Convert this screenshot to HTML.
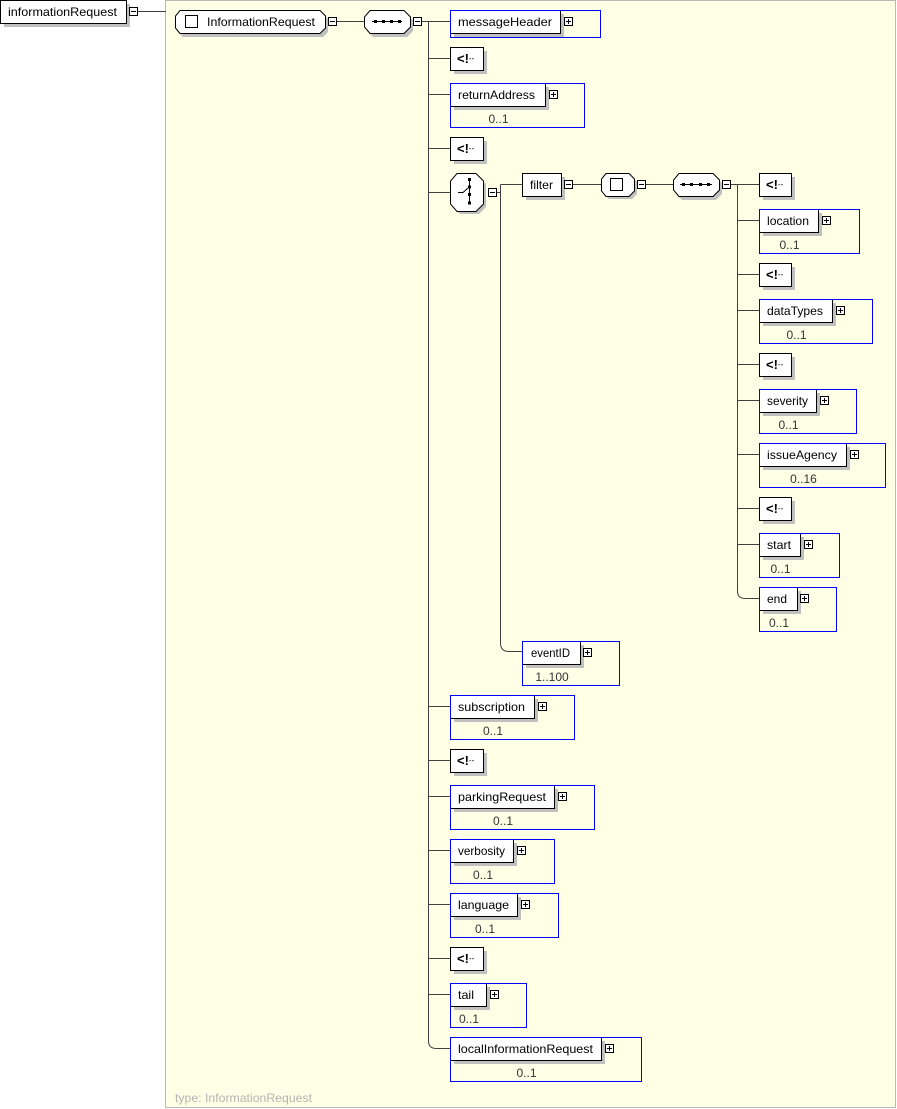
<!DOCTYPE html>
<html>
<head>
<meta charset="utf-8">
<style>
html,body{margin:0;padding:0;background:#fff;}
svg{display:block;}
text{font-family:"Liberation Sans",Arial,sans-serif;}
.t{font-size:12px;fill:#000;}
.o{font-size:12px;fill:#333;}
.ln{stroke:#404040;stroke-width:1;fill:none;}
.bx{fill:#fff;stroke:#000;stroke-width:1;}
.sh{fill:#c0c0c0;}
.bl{fill:none;stroke:#0000ff;stroke-width:1;}
.pm{fill:#fff;stroke:#000;stroke-width:1;}
.pl{stroke:#000;stroke-width:1;}
</style>
</head>
<body>
<svg width="897" height="1109" viewBox="0 0 897 1109" xmlns="http://www.w3.org/2000/svg">
<!-- panel -->
<rect x="165.5" y="0.5" width="730" height="1107" fill="#ffffe6" stroke="#b8b8b8"/>
<text x="175" y="1102" font-size="12" fill="#b4b4b4" textLength="137" lengthAdjust="spacingAndGlyphs">type: InformationRequest</text>

<!-- root element -->
<rect class="sh" x="4" y="4" width="126" height="23"/>
<rect class="bx" x="0.5" y="0.5" width="126" height="23"/>
<text class="t" x="8" y="16" textLength="109" lengthAdjust="spacingAndGlyphs">informationRequest</text>
<rect class="pm" x="129.5" y="7.5" width="8" height="8"/>
<line class="pl" x1="131" y1="11.5" x2="136" y2="11.5"/>
<line class="ln" x1="138" y1="11.5" x2="166" y2="11.5"/>

<!-- complex type InformationRequest -->
<polygon class="sh" points="184,14 324,14 329,19 329,32 324,37 184,37 179,32 179,19" transform="translate(-1,0)"/>
<polygon class="bx" points="180,10.5 320,10.5 325.5,16 325.5,28 320,33.5 180,33.5 175.5,28 175.5,16"/>
<rect x="185.5" y="15.5" width="12" height="12" fill="#fff" stroke="#000"/>
<text class="t" x="207" y="26" textLength="108" lengthAdjust="spacingAndGlyphs">InformationRequest</text>
<rect class="pm" x="328.5" y="17.5" width="8" height="8"/>
<line class="pl" x1="330" y1="21.5" x2="335" y2="21.5"/>
<line class="ln" x1="337" y1="21.5" x2="364" y2="21.5"/>

<!-- main sequence -->
<polygon class="sh" points="373,14 407,14 413,20 413,31 407,37 373,37 367,31 367,20"/>
<polygon class="bx" points="370,10.5 404,10.5 410.5,17 410.5,27 404,33.5 370,33.5 364.5,27 364.5,17"/>
<line x1="372" y1="21.5" x2="402" y2="21.5" stroke="#000"/>
<rect x="374" y="20" width="3" height="3" fill="#000"/>
<rect x="382" y="20" width="3" height="3" fill="#000"/>
<rect x="390" y="20" width="3" height="3" fill="#000"/>
<rect x="398" y="20" width="3" height="3" fill="#000"/>
<rect class="pm" x="413.5" y="17.5" width="8" height="8"/>
<line class="pl" x1="415" y1="21.5" x2="420" y2="21.5"/>

<!-- main trunk -->
<path class="ln" d="M422 21.5 H450 M428.5 21.5 V1041 Q428.5 1048.5 436.5 1048.5 H450"/>
<path class="ln" d="M428.5 58.5 H450 M428.5 94.5 H450 M428.5 148.5 H450 M428.5 192.5 H450 M428.5 706.5 H450 M428.5 760.5 H450 M428.5 796.5 H450 M428.5 850.5 H450 M428.5 904.5 H450 M428.5 958.5 H450 M428.5 994.5 H450"/>

<!-- messageHeader -->
<rect class="sh" x="454" y="14" width="110" height="23"/>
<rect class="bx" x="450.5" y="10.5" width="110" height="23"/>
<rect class="bl" x="450.5" y="10.5" width="150" height="27"/>
<text class="t" x="458" y="26" textLength="94" lengthAdjust="spacingAndGlyphs">messageHeader</text>
<rect class="pm" x="564.5" y="17.5" width="8" height="8"/>
<path class="pl" d="M566 21.5 H571 M568.5 19 V24"/>

<!-- comment 1 -->
<rect class="sh" x="454" y="51" width="33" height="23"/>
<rect class="bx" x="450.5" y="47.5" width="33" height="23"/>
<text x="457" y="63" font-size="13" font-weight="bold">&lt;!<tspan font-size="8" font-weight="normal" dy="-2">--</tspan></text>

<!-- returnAddress -->
<rect class="sh" x="454" y="87" width="95" height="23"/>
<rect class="bx" x="450.5" y="83.5" width="95" height="23"/>
<rect class="bl" x="450.5" y="83.5" width="134" height="44"/>
<text class="t" x="458" y="99" textLength="77" lengthAdjust="spacingAndGlyphs">returnAddress</text>
<rect class="pm" x="549.5" y="90.5" width="8" height="8"/>
<path class="pl" d="M551 94.5 H556 M553.5 92 V97"/>
<text class="o" x="498.5" y="123" text-anchor="middle">0..1</text>

<!-- comment 2 -->
<rect class="sh" x="454" y="141" width="33" height="23"/>
<rect class="bx" x="450.5" y="137.5" width="33" height="23"/>
<text x="457" y="153" font-size="13" font-weight="bold">&lt;!<tspan font-size="8" font-weight="normal" dy="-2">--</tspan></text>

<!-- choice -->
<polygon class="sh" points="460,177 479,177 486,184 486,207 479,214 460,214 453,207 453,184"/>
<polygon class="bx" points="457,173.5 476,173.5 483.5,181 483.5,204 476,211.5 457,211.5 450.5,204 450.5,181"/>
<line x1="469.5" y1="179" x2="469.5" y2="204" stroke="#000"/>
<rect x="468" y="178" width="3" height="3" fill="#000"/>
<rect x="468" y="185.5" width="3" height="3" fill="#000"/>
<rect x="468" y="193" width="3" height="3" fill="#000"/>
<rect x="468" y="201.5" width="3" height="3" fill="#000"/>
<path d="M458 192.5 H463 L468 188" stroke="#000" fill="none"/>
<rect class="pm" x="488.5" y="188.5" width="8" height="8"/>
<line class="pl" x1="490" y1="192.5" x2="495" y2="192.5"/>
<path class="ln" d="M497 192.5 H500.5 M500.5 184.5 H522 M500.5 184.5 V643 Q500.5 651.5 509 651.5 H522"/>

<!-- filter -->
<rect class="sh" x="526" y="177" width="39" height="23"/>
<rect class="bx" x="522.5" y="173.5" width="39" height="23"/>
<text class="t" x="530" y="189" textLength="23" lengthAdjust="spacingAndGlyphs">filter</text>
<rect class="pm" x="564.5" y="180.5" width="8" height="8"/>
<line class="pl" x1="566" y1="184.5" x2="571" y2="184.5"/>
<line class="ln" x1="573" y1="184.5" x2="601" y2="184.5"/>

<!-- filter CT -->
<polygon class="sh" points="609,177 632,177 637,182 637,194 632,199 609,199 604,194 604,182"/>
<polygon class="bx" points="606,173.5 629,173.5 634.5,179 634.5,191 629,196.5 606,196.5 601.5,191 601.5,179"/>
<rect x="610.5" y="178.5" width="12" height="12" fill="#fff" stroke="#000"/>
<rect class="pm" x="637.5" y="180.5" width="8" height="8"/>
<line class="pl" x1="639" y1="184.5" x2="644" y2="184.5"/>
<line class="ln" x1="646" y1="184.5" x2="673" y2="184.5"/>

<!-- filter sequence -->
<polygon class="sh" points="682,177 716,177 722,183 722,194 716,200 682,200 676,194 676,183"/>
<polygon class="bx" points="679,173.5 713,173.5 719.5,180 719.5,190 713,196.5 679,196.5 673.5,190 673.5,180"/>
<line x1="680" y1="184.5" x2="712" y2="184.5" stroke="#000"/>
<rect x="682" y="183" width="3" height="3" fill="#000"/>
<rect x="690" y="183" width="3" height="3" fill="#000"/>
<rect x="699" y="183" width="3" height="3" fill="#000"/>
<rect x="707" y="183" width="3" height="3" fill="#000"/>
<rect class="pm" x="722.5" y="180.5" width="8" height="8"/>
<line class="pl" x1="724" y1="184.5" x2="729" y2="184.5"/>

<!-- filter trunk -->
<path class="ln" d="M731 184.5 H759 M737.5 184.5 V591 Q737.5 598.5 745.5 598.5 H759"/>
<path class="ln" d="M737.5 220.5 H759 M737.5 274.5 H759 M737.5 310.5 H759 M737.5 364.5 H759 M737.5 400.5 H759 M737.5 454.5 H759 M737.5 508.5 H759 M737.5 544.5 H759"/>

<!-- filter comments -->
<rect class="sh" x="763" y="177" width="32" height="23"/>
<rect class="bx" x="759.5" y="173.5" width="32" height="23"/>
<text x="766" y="189" font-size="13" font-weight="bold">&lt;!<tspan font-size="8" font-weight="normal" dy="-2">--</tspan></text>

<rect class="sh" x="763" y="267" width="32" height="23"/>
<rect class="bx" x="759.5" y="263.5" width="32" height="23"/>
<text x="766" y="279" font-size="13" font-weight="bold">&lt;!<tspan font-size="8" font-weight="normal" dy="-2">--</tspan></text>

<rect class="sh" x="763" y="357" width="32" height="23"/>
<rect class="bx" x="759.5" y="353.5" width="32" height="23"/>
<text x="766" y="369" font-size="13" font-weight="bold">&lt;!<tspan font-size="8" font-weight="normal" dy="-2">--</tspan></text>

<rect class="sh" x="763" y="501" width="32" height="23"/>
<rect class="bx" x="759.5" y="497.5" width="32" height="23"/>
<text x="766" y="513" font-size="13" font-weight="bold">&lt;!<tspan font-size="8" font-weight="normal" dy="-2">--</tspan></text>

<!-- location -->
<rect class="sh" x="763" y="213" width="59" height="23"/>
<rect class="bx" x="759.5" y="209.5" width="59" height="23"/>
<rect class="bl" x="759.5" y="209.5" width="100" height="44"/>
<text class="t" x="767" y="225" textLength="42" lengthAdjust="spacingAndGlyphs">location</text>
<rect class="pm" x="822.5" y="216.5" width="8" height="8"/>
<path class="pl" d="M824 220.5 H829 M826.5 218 V223"/>
<text class="o" x="789.5" y="249" text-anchor="middle">0..1</text>

<!-- dataTypes -->
<rect class="sh" x="763" y="303" width="73" height="23"/>
<rect class="bx" x="759.5" y="299.5" width="73" height="23"/>
<rect class="bl" x="759.5" y="299.5" width="113" height="44"/>
<text class="t" x="767" y="315" textLength="56" lengthAdjust="spacingAndGlyphs">dataTypes</text>
<rect class="pm" x="836.5" y="306.5" width="8" height="8"/>
<path class="pl" d="M838 310.5 H843 M840.5 308 V313"/>
<text class="o" x="796.5" y="339" text-anchor="middle">0..1</text>

<!-- severity -->
<rect class="sh" x="763" y="393" width="57" height="23"/>
<rect class="bx" x="759.5" y="389.5" width="57" height="23"/>
<rect class="bl" x="759.5" y="389.5" width="97" height="44"/>
<text class="t" x="767" y="405" textLength="41" lengthAdjust="spacingAndGlyphs">severity</text>
<rect class="pm" x="820.5" y="396.5" width="8" height="8"/>
<path class="pl" d="M822 400.5 H827 M824.5 398 V403"/>
<text class="o" x="788.5" y="429" text-anchor="middle">0..1</text>

<!-- issueAgency -->
<rect class="sh" x="763" y="447" width="87" height="23"/>
<rect class="bx" x="759.5" y="443.5" width="87" height="23"/>
<rect class="bl" x="759.5" y="443.5" width="126" height="44"/>
<text class="t" x="767" y="459" textLength="70" lengthAdjust="spacingAndGlyphs">issueAgency</text>
<rect class="pm" x="850.5" y="450.5" width="8" height="8"/>
<path class="pl" d="M852 454.5 H857 M854.5 452 V457"/>
<text class="o" x="803.5" y="483" text-anchor="middle">0..16</text>

<!-- start -->
<rect class="sh" x="763" y="537" width="41" height="23"/>
<rect class="bx" x="759.5" y="533.5" width="41" height="23"/>
<rect class="bl" x="759.5" y="533.5" width="80" height="44"/>
<text class="t" x="767" y="549" textLength="24" lengthAdjust="spacingAndGlyphs">start</text>
<rect class="pm" x="804.5" y="540.5" width="8" height="8"/>
<path class="pl" d="M806 544.5 H811 M808.5 542 V547"/>
<text class="o" x="780.5" y="573" text-anchor="middle">0..1</text>

<!-- end -->
<rect class="sh" x="763" y="591" width="38" height="23"/>
<rect class="bx" x="759.5" y="587.5" width="38" height="23"/>
<rect class="bl" x="759.5" y="587.5" width="77" height="44"/>
<text class="t" x="767" y="603" textLength="20" lengthAdjust="spacingAndGlyphs">end</text>
<rect class="pm" x="800.5" y="594.5" width="8" height="8"/>
<path class="pl" d="M802 598.5 H807 M804.5 596 V601"/>
<text class="o" x="779" y="627" text-anchor="middle">0..1</text>

<!-- eventID -->
<rect class="sh" x="526" y="645" width="58" height="23"/>
<rect class="bx" x="522.5" y="641.5" width="58" height="23"/>
<rect class="bl" x="522.5" y="641.5" width="97" height="44"/>
<text class="t" x="531" y="657" textLength="39" lengthAdjust="spacingAndGlyphs">eventID</text>
<rect class="pm" x="583.5" y="648.5" width="8" height="8"/>
<path class="pl" d="M585 652.5 H590 M587.5 650 V655"/>
<text class="o" x="552" y="681" text-anchor="middle">1..100</text>

<!-- subscription -->
<rect class="sh" x="454" y="699" width="84" height="23"/>
<rect class="bx" x="450.5" y="695.5" width="84" height="23"/>
<rect class="bl" x="450.5" y="695.5" width="124" height="44"/>
<text class="t" x="458" y="711" textLength="67" lengthAdjust="spacingAndGlyphs">subscription</text>
<rect class="pm" x="538.5" y="702.5" width="8" height="8"/>
<path class="pl" d="M540 706.5 H545 M542.5 704 V709"/>
<text class="o" x="493" y="735" text-anchor="middle">0..1</text>

<!-- comment 3 -->
<rect class="sh" x="454" y="753" width="33" height="23"/>
<rect class="bx" x="450.5" y="749.5" width="33" height="23"/>
<text x="457" y="765" font-size="13" font-weight="bold">&lt;!<tspan font-size="8" font-weight="normal" dy="-2">--</tspan></text>

<!-- parkingRequest -->
<rect class="sh" x="454" y="789" width="104" height="23"/>
<rect class="bx" x="450.5" y="785.5" width="104" height="23"/>
<rect class="bl" x="450.5" y="785.5" width="144" height="44"/>
<text class="t" x="458" y="801" textLength="88" lengthAdjust="spacingAndGlyphs">parkingRequest</text>
<rect class="pm" x="558.5" y="792.5" width="8" height="8"/>
<path class="pl" d="M560 796.5 H565 M562.5 794 V799"/>
<text class="o" x="503" y="825" text-anchor="middle">0..1</text>

<!-- verbosity -->
<rect class="sh" x="454" y="843" width="63" height="23"/>
<rect class="bx" x="450.5" y="839.5" width="63" height="23"/>
<rect class="bl" x="450.5" y="839.5" width="104" height="44"/>
<text class="t" x="458" y="855" textLength="47" lengthAdjust="spacingAndGlyphs">verbosity</text>
<rect class="pm" x="517.5" y="846.5" width="8" height="8"/>
<path class="pl" d="M519 850.5 H524 M521.5 848 V853"/>
<text class="o" x="483" y="879" text-anchor="middle">0..1</text>

<!-- language -->
<rect class="sh" x="454" y="897" width="67" height="23"/>
<rect class="bx" x="450.5" y="893.5" width="67" height="23"/>
<rect class="bl" x="450.5" y="893.5" width="108" height="44"/>
<text class="t" x="458" y="909" textLength="51" lengthAdjust="spacingAndGlyphs">language</text>
<rect class="pm" x="521.5" y="900.5" width="8" height="8"/>
<path class="pl" d="M523 904.5 H528 M525.5 902 V907"/>
<text class="o" x="485" y="933" text-anchor="middle">0..1</text>

<!-- comment 4 -->
<rect class="sh" x="454" y="951" width="33" height="23"/>
<rect class="bx" x="450.5" y="947.5" width="33" height="23"/>
<text x="457" y="963" font-size="13" font-weight="bold">&lt;!<tspan font-size="8" font-weight="normal" dy="-2">--</tspan></text>

<!-- tail -->
<rect class="sh" x="454" y="987" width="36" height="23"/>
<rect class="bx" x="450.5" y="983.5" width="36" height="23"/>
<rect class="bl" x="450.5" y="983.5" width="76" height="44"/>
<text class="t" x="458" y="999" textLength="16" lengthAdjust="spacingAndGlyphs">tail</text>
<rect class="pm" x="490.5" y="990.5" width="8" height="8"/>
<path class="pl" d="M492 994.5 H497 M494.5 992 V997"/>
<text class="o" x="469" y="1023" text-anchor="middle">0..1</text>

<!-- localInformationRequest -->
<rect class="sh" x="454" y="1041" width="151" height="23"/>
<rect class="bx" x="450.5" y="1037.5" width="151" height="23"/>
<rect class="bl" x="450.5" y="1037.5" width="191" height="44"/>
<text class="t" x="458" y="1053" textLength="135" lengthAdjust="spacingAndGlyphs">localInformationRequest</text>
<rect class="pm" x="605.5" y="1044.5" width="8" height="8"/>
<path class="pl" d="M607 1048.5 H612 M609.5 1046 V1051"/>
<text class="o" x="526.5" y="1077" text-anchor="middle">0..1</text>
</svg>
</body>
</html>
